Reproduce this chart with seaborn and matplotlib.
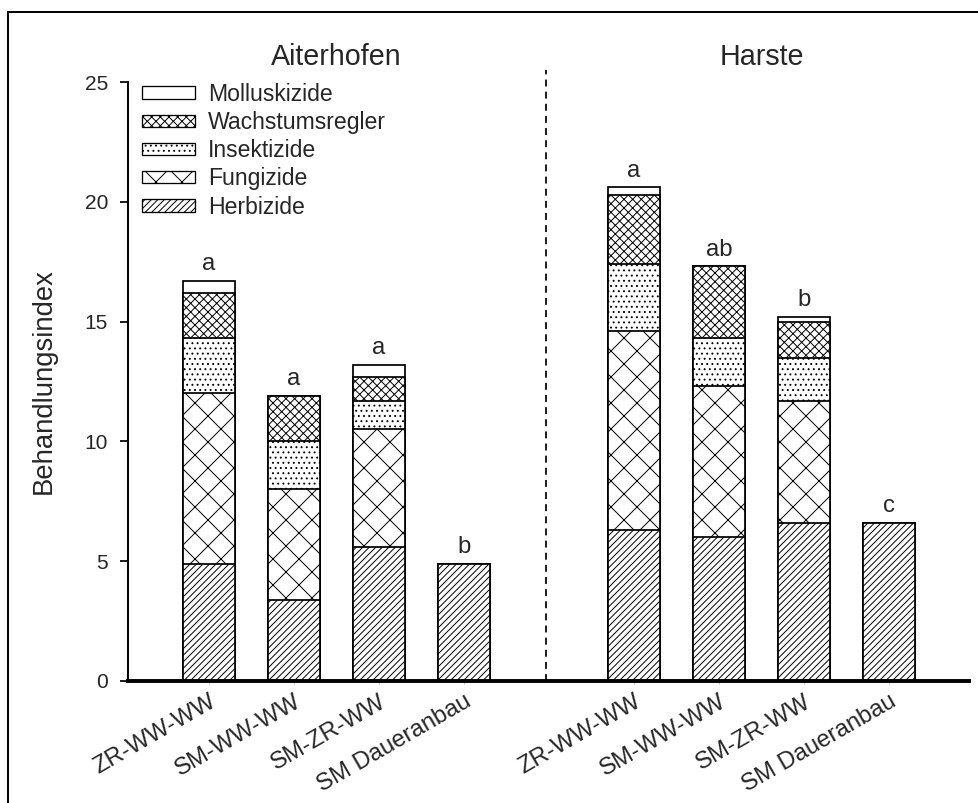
import numpy as np
import pandas as pd
import seaborn as sns
import matplotlib.pyplot as plt
from matplotlib.patches import Patch, Rectangle

# Crop rotations per site (bars at x positions, gap between the two sites)
rotations = ["ZR-WW-WW", "SM-WW-WW", "SM-ZR-WW", "SM Daueranbau"]
sites = ["Aiterhofen", "Harste"]
positions = [0, 1, 2, 3, 5, 6, 7, 8]
tick_labels = rotations + rotations

# Treatment index per pesticide group (Aiterhofen x4, then Harste x4)
herbizide = [4.9, 3.4, 5.6, 4.9, 6.3, 6.0, 6.6, 6.6]
fungizide = [7.1, 4.6, 4.9, 0.0, 8.3, 6.3, 5.1, 0.0]
insektizide = [2.3, 2.0, 1.2, 0.0, 2.8, 2.0, 1.8, 0.0]
wachstumsregler = [1.9, 1.9, 1.0, 0.0, 2.9, 3.0, 1.5, 0.0]
molluskizide = [0.5, 0.0, 0.5, 0.0, 0.3, 0.0, 0.2, 0.0]

# Significance letters above each bar
letters = ["a", "a", "a", "b", "a", "ab", "b", "c"]

layer_names = ["Herbizide", "Fungizide", "Insektizide", "Wachstumsregler", "Molluskizide"]
layer_values = [herbizide, fungizide, insektizide, wachstumsregler, molluskizide]
layer_hatches = ["/" * 8, "xx", "." * 5, "x" * 6, ""]

DPI = 156
sns.set_style("ticks")
plt.rcParams["font.family"] = ["Liberation Sans", "DejaVu Sans"]
plt.rcParams["hatch.linewidth"] = 0.45

fig = plt.figure(figsize=(978 / DPI, 803 / DPI), dpi=DPI)
ax = fig.add_axes([128 / 978, 1 - 681 / 803, (969 - 128) / 978, (681 - 82) / 803])

cum = np.cumsum(np.array(layer_values), axis=0)

# Draw cumulative totals from the top layer down so each lower layer covers the one above
for i in range(len(layer_names) - 1, -1, -1):
    df = pd.DataFrame({"pos": positions, "value": cum[i]})
    sns.barplot(data=df, x="pos", y="value", native_scale=True, width=0.61,
                color="white", saturation=1, edgecolor="black", linewidth=0.8,
                hatch=layer_hatches[i], errorbar=None, ax=ax)

totals = cum[-1]
for p, t, lab in zip(positions, totals, letters):
    ax.annotate(lab, xy=(p, t), xytext=(0, 2.5), textcoords="offset points",
                ha="center", va="bottom", fontsize=11)

ax.set_xlim(-0.953, 8.94)
ax.set_ylim(0, 25)
ax.set_yticks([0, 5, 10, 15, 20, 25])
ax.set_xticks(positions)
ax.set_xticklabels(tick_labels, rotation=30, ha="right", rotation_mode="anchor", fontsize=11)
ax.tick_params(axis="y", labelsize=9.7, length=3.7, width=0.8, pad=5.5, color="black")
ax.tick_params(axis="x", length=1.5, width=0.4, color="#bbbbbb", pad=3)
ax.set_xlabel("")
ax.set_ylabel("Behandlungsindex", fontsize=12.7)
ax.yaxis.set_label_coords((57 - 128) / 841, 0.5)

for s in ["top", "right"]:
    ax.spines[s].set_visible(False)
ax.spines["left"].set_linewidth(0.9)
ax.spines["bottom"].set_linewidth(1.8)
ax.spines["left"].set_color("black")
ax.spines["bottom"].set_color("black")

# Site separator and site titles
ax.plot([3.96, 3.96], [0, 25.5], color="black", lw=0.8, ls=(0, (4, 3)), clip_on=False)
for xc, name in zip([1.5, 6.5], sites):
    ax.text(xc, 25.7, name, ha="center", va="baseline", fontsize=13.2)

handles = [Patch(facecolor="white", edgecolor="black", linewidth=0.6, hatch=h, label=n)
           for n, h in zip(layer_names[::-1], layer_hatches[::-1])]
ax.legend(handles=handles, loc="upper left", bbox_to_anchor=(0.017, 0.999), frameon=False,
          fontsize=10.6, handlelength=2.3, handleheight=0.45, handletextpad=0.57,
          labelspacing=0.23, borderpad=0, borderaxespad=0)

# Outer frame around the figure
fig.add_artist(Rectangle((8 / 978, -0.02), 1.0, 1 - 12 / 803 + 0.02, transform=fig.transFigure,
                         fill=False, edgecolor="black", linewidth=0.9))

fig.savefig("out.png", dpi=DPI)
